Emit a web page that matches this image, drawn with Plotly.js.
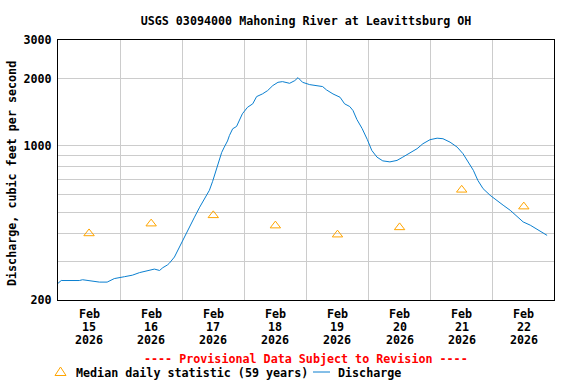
<!DOCTYPE html>
<html>
<head>
<meta charset="utf-8">
<script src="https://cdn.plot.ly/plotly-3.0.1.min.js"></script>
<style>html,body{margin:0;padding:0;background:#fff;}#chart{width:576px;height:384px;}</style>
</head>
<body>
<div id="chart"></div>
<script>
// Discharge (cfs), USGS 03094000
var dischargeTimes = [
 "2026-02-15 00:00","2026-02-15 01:15","2026-02-15 04:15","2026-02-15 08:15","2026-02-15 09:30","2026-02-15 11:00",
 "2026-02-15 12:00","2026-02-15 16:00","2026-02-15 19:00","2026-02-15 21:45","2026-02-16 01:45","2026-02-16 04:45",
 "2026-02-16 07:30","2026-02-16 11:15","2026-02-16 13:15","2026-02-16 15:15","2026-02-16 16:30","2026-02-16 18:15",
 "2026-02-16 19:00","2026-02-16 21:00","2026-02-16 23:00","2026-02-17 01:00","2026-02-17 02:45","2026-02-17 04:45",
 "2026-02-17 06:45","2026-02-17 08:30","2026-02-17 10:30","2026-02-17 11:45","2026-02-17 13:00","2026-02-17 14:00",
 "2026-02-17 15:15","2026-02-17 16:15","2026-02-17 17:30","2026-02-17 18:15","2026-02-17 19:30","2026-02-17 21:00",
 "2026-02-17 22:15","2026-02-17 23:15","2026-02-18 01:15","2026-02-18 03:15","2026-02-18 04:45","2026-02-18 07:00",
 "2026-02-18 09:00","2026-02-18 11:00","2026-02-18 13:00","2026-02-18 14:45","2026-02-18 17:30","2026-02-18 19:30",
 "2026-02-18 20:45","2026-02-18 22:30","2026-02-19 01:15","2026-02-19 05:15","2026-02-19 06:15","2026-02-19 07:45",
 "2026-02-19 10:15","2026-02-19 13:00","2026-02-19 14:45","2026-02-19 16:45","2026-02-19 18:00","2026-02-19 19:30",
 "2026-02-19 21:30","2026-02-19 23:30","2026-02-20 01:15","2026-02-20 03:15","2026-02-20 05:30","2026-02-20 08:15",
 "2026-02-20 11:00","2026-02-20 13:15","2026-02-20 16:00","2026-02-20 18:45","2026-02-20 21:00","2026-02-20 23:45",
 "2026-02-21 02:30","2026-02-21 04:45","2026-02-21 07:30","2026-02-21 10:15","2026-02-21 12:30","2026-02-21 14:30",
 "2026-02-21 16:30","2026-02-21 18:15","2026-02-21 20:15","2026-02-21 23:00","2026-02-22 01:45","2026-02-22 04:00",
 "2026-02-22 06:45","2026-02-22 09:30","2026-02-22 11:45","2026-02-22 14:30","2026-02-22 17:15","2026-02-22 19:30",
 "2026-02-22 21:00"
];
var dischargeValues = [
 238,245,245,245,247,246,
 244,241,241,250,255,259,
 266,272,276,272,280,288,
 293,313,347,385,427,474,
 526,575,627,688,764,847,
 930,983,1048,1110,1190,1219,
 1320,1391,1489,1543,1664,1711,
 1771,1866,1931,1945,1911,1965,
 2027,1931,1885,1866,1847,1784,
 1711,1652,1543,1500,1439,1311,
 1194,1065,950,886,852,843,
 856,886,923,967,1018,1062,
 1079,1073,1035,983,918,841,
 772,695,638,595,565,537,
 509,475,451,436,417,402,
 392
];
// Median daily statistic (59 years)
var medianDates = ["2026-02-15 12:00","2026-02-16 12:00","2026-02-17 12:00","2026-02-18 12:00",
                   "2026-02-19 12:00","2026-02-20 12:00","2026-02-21 12:00","2026-02-22 12:00"];
var medianValues = [400,443,483,434,395,426,630,529];

// X tick labels (one row per line of the label)
var xTickMonth = ["Feb","Feb","Feb","Feb","Feb","Feb","Feb","Feb"];
var xTickDay = ["15","16","17","18","19","20","21","22"];
var xTickYear = ["2026","2026","2026","2026","2026","2026","2026","2026"];
var yTickVals = [200,1000,2000,3000];
var yTickText = ["200","1000","2000","3000"];
var yGridVals = [300,400,500,600,700,800,900];

var FONT = "DejaVu Sans Mono, Liberation Mono, monospace";
var FS = 11.7;
var gridColor = "#cccccc";
var PL = 58, PT = 40, PW = 496, PH = 260;
function py(pix) { return (PT + PH - pix) / PH; }
function px(pix) { return (pix - PL) / PW; }

var traces = [
  {x: medianDates, y: medianValues, type: "scatter", mode: "markers", name: "Median daily statistic (59 years)",
   marker: {symbol: "triangle-up-open", size: 9, color: "#ffa500", line: {width: 1, color: "#ffa500"}},
   cliponaxis: false, showlegend: false},
  {x: dischargeTimes, y: dischargeValues, type: "scatter", mode: "lines", name: "Discharge",
   line: {color: "#0a7fd0", width: 1}, showlegend: false}
];

var annotations = [];
var rows = [[xTickMonth, 314], [xTickDay, 327], [xTickYear, 340]];
rows.forEach(function (r) {
  r[0].forEach(function (t, i) {
    annotations.push({text: t, x: medianDates[i], xref: "x", y: py(r[1]), yref: "paper",
      xanchor: "center", yanchor: "middle", showarrow: false,
      font: {family: FONT, size: FS, color: "#000", weight: "bold"}});
  });
});
annotations.push(
  {text: "Discharge, cubic feet per second", xref: "paper", yref: "paper", textangle: -90,
   x: px(12), y: py(174), xanchor: "center", yanchor: "middle", showarrow: false,
   font: {family: FONT, size: FS, color: "#000", weight: "bold"}},
  {text: "---- Provisional Data Subject to Revision ----", xref: "paper", yref: "paper",
   x: px(305.5), y: py(359), xanchor: "center", yanchor: "middle", showarrow: false,
   font: {family: FONT, size: FS, color: "#ff0000", weight: "bold"}},
  {text: "Median daily statistic (59 years)", xref: "paper", yref: "paper",
   x: px(74), y: py(372.5), xanchor: "left", yanchor: "middle", showarrow: false,
   font: {family: FONT, size: FS, color: "#000", weight: "bold"}},
  {text: "Discharge", xref: "paper", yref: "paper",
   x: px(336), y: py(372.5), xanchor: "left", yanchor: "middle", showarrow: false,
   font: {family: FONT, size: FS, color: "#000", weight: "bold"}}
);

var layout = {
  width: 576, height: 384,
  margin: {l: PL, r: 576 - PL - PW, t: PT, b: 384 - PT - PH, pad: 0},
  paper_bgcolor: "#ffffff", plot_bgcolor: "#ffffff",
  font: {family: FONT, size: FS, color: "#000000", weight: "bold"},
  showlegend: false,
  title: {text: "USGS 03094000 Mahoning River at Leavittsburg OH", x: 0.5, xref: "paper", xanchor: "center",
          y: 1 - 20.5/384, yref: "container", yanchor: "middle",
          font: {family: FONT, size: FS, color: "#000", weight: "bold"}},
  xaxis: {
    type: "date", range: ["2026-02-15 00:00", "2026-02-22 23:40"],
    tickmode: "array", tickvals: medianDates, showticklabels: false,
    showgrid: false, zeroline: false, ticks: "",
    showline: true, linecolor: "#000", linewidth: 1, mirror: true,
    minor: {tickmode: "linear", tick0: "2026-02-15 00:00", dtick: 86400000, showgrid: true,
            gridcolor: gridColor, gridwidth: 1, ticks: ""},
    fixedrange: true
  },
  yaxis: {
    type: "log", range: [Math.log10(200), Math.log10(3000)],
    tickmode: "array", tickvals: yTickVals, ticktext: yTickText,
    showgrid: true, gridcolor: gridColor, gridwidth: 1, zeroline: false,
    ticks: "outside", ticklen: 3, tickcolor: "rgba(0,0,0,0)",
    showline: true, linecolor: "#000", linewidth: 1, mirror: true,
    tickfont: {family: FONT, size: FS, color: "#000", weight: "bold"},
    minor: {tickmode: "array", tickvals: yGridVals, showgrid: true, gridcolor: gridColor, gridwidth: 1, ticks: ""},
    automargin: false, fixedrange: true
  },
  annotations: annotations,
  shapes: [
    {type: "path", xref: "paper", yref: "paper",
     path: "M" + px(60.5) + "," + py(367) + " L" + px(66) + "," + py(375.5) + " L" + px(55) + "," + py(375.5) + " Z",
     line: {color: "#ffa500", width: 1}},
    {type: "line", xref: "paper", yref: "paper",
     x0: px(313), x1: px(330), y0: py(372), y1: py(372),
     line: {color: "#0a7fd0", width: 1}}
  ]
};

Plotly.newPlot("chart", traces, layout, {staticPlot: true, displayModeBar: false});
</script>
</body>
</html>
